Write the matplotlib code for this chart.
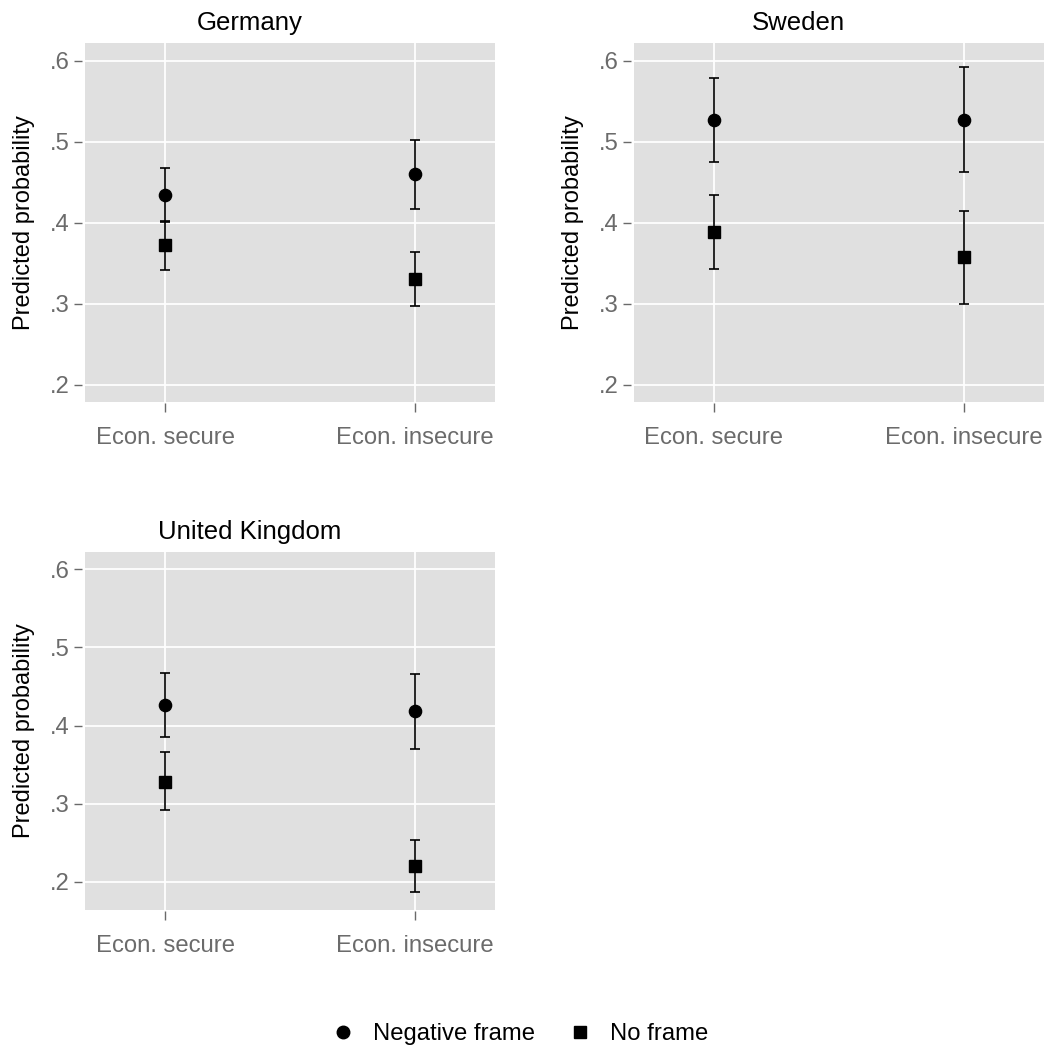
#!/usr/bin/env python

import numpy as np
import matplotlib
matplotlib.use('Agg')
import matplotlib.pyplot as plt
from matplotlib.lines import Line2D

# Predicted probabilities with 95% intervals, by country and economic group
countries = ['Germany', 'Sweden', 'United Kingdom']
categories = ['Econ. secure', 'Econ. insecure']

negative_est = [[0.434, 0.460], [0.527, 0.527], [0.426, 0.418]]
negative_lo = [[0.401, 0.417], [0.475, 0.463], [0.385, 0.370]]
negative_hi = [[0.468, 0.502], [0.579, 0.592], [0.467, 0.466]]

noframe_est = [[0.373, 0.331], [0.389, 0.358], [0.328, 0.220]]
noframe_lo = [[0.342, 0.298], [0.343, 0.300], [0.292, 0.187]]
noframe_hi = [[0.402, 0.364], [0.435, 0.415], [0.366, 0.253]]

yticks = [0.2, 0.3, 0.4, 0.5, 0.6]
yticklabels = ['.2', '.3', '.4', '.5', '.6']

series = ['Negative frame', 'No frame']

plt.rcParams['font.family'] = ['Liberation Sans', 'DejaVu Sans']


def panel(fig, rect, i, ylim):
	'''
	Draw one country panel
	Args:
		fig (Figure): figure
		rect (list): axes rectangle in figure fraction
		i (int): country index
		ylim (tuple): y limits
	Returns:
		ax (Axes): axes
	'''

	ax = fig.add_axes(rect)
	ax.set_facecolor('#e0e0e0')
	ax.set_axisbelow(True)

	for spine in ax.spines.values():
		spine.set_visible(False)
	ax.spines['left'].set_position(('outward', 2.2))
	ax.spines['bottom'].set_position(('outward', 0.7))

	x = np.arange(len(categories))

	options = {'color': 'black', 'ecolor': 'black', 'elinewidth': 1.2,
		'capsize': 3.8, 'capthick': 1.2, 'linestyle': 'none', 'zorder': 3}

	est, lo, hi = np.array(negative_est[i]), np.array(negative_lo[i]), np.array(negative_hi[i])
	ax.errorbar(x, est, yerr=[est - lo, hi - est], marker='o', ms=8.8, **options)

	est, lo, hi = np.array(noframe_est[i]), np.array(noframe_lo[i]), np.array(noframe_hi[i])
	ax.errorbar(x, est, yerr=[est - lo, hi - est], marker='s', ms=8.4, **options)

	ax.set_xlim(-0.32, 1.32)
	ax.set_ylim(*ylim)

	ax.set_xticks(x)
	ax.set_xticklabels(categories)
	ax.set_yticks(yticks)
	ax.set_yticklabels(yticklabels)

	ax.grid(True, color='white', linewidth=1.3)
	ax.tick_params(axis='both', direction='out', width=1.0,
		color='#6a6a6a', labelcolor='#6b6b6b', labelsize=17.2)
	ax.tick_params(axis='x', length=6.5, pad=10.5)
	ax.tick_params(axis='y', length=5.8, pad=3)

	ax.set_ylabel('Predicted probability', fontsize=17, color='black', labelpad=10.5)
	ax.set_title(countries[i], fontsize=18.5, color='black', pad=9, x=0.402)

	return ax


def plot(path='out.png'):
	'''
	Plot all panels and shared legend
	Args:
		path (str): path to save plot
	'''

	W = 1046
	fig = plt.figure(figsize=(W / 100, W / 100), dpi=100)
	fig.patch.set_facecolor('white')

	def rect(left, top, right, bottom):
		return [left / W, 1 - bottom / W, (right - left) / W, (bottom - top) / W]

	panel(fig, rect(85, 43, 495, 402), 0, (0.179, 0.622))
	panel(fig, rect(634, 43, 1044, 402), 1, (0.179, 0.622))
	panel(fig, rect(85, 552, 495, 910), 2, (0.164, 0.622))

	handles = [
		Line2D([], [], color='black', marker='o', ms=9, linestyle='none'),
		Line2D([], [], color='black', marker='s', ms=8.5, linestyle='none'),
	]
	options = {'loc': 'center', 'bbox_to_anchor': (0.4966, 0.011), 'ncol': 2,
		'frameon': False, 'fontsize': 17.2, 'handletextpad': 0.75, 'columnspacing': 1.4,
		'handlelength': 1.0}
	fig.legend(handles, series, **options)

	fig.savefig(path, dpi=100, facecolor='white')

	return


if __name__ == '__main__':

	plot()
